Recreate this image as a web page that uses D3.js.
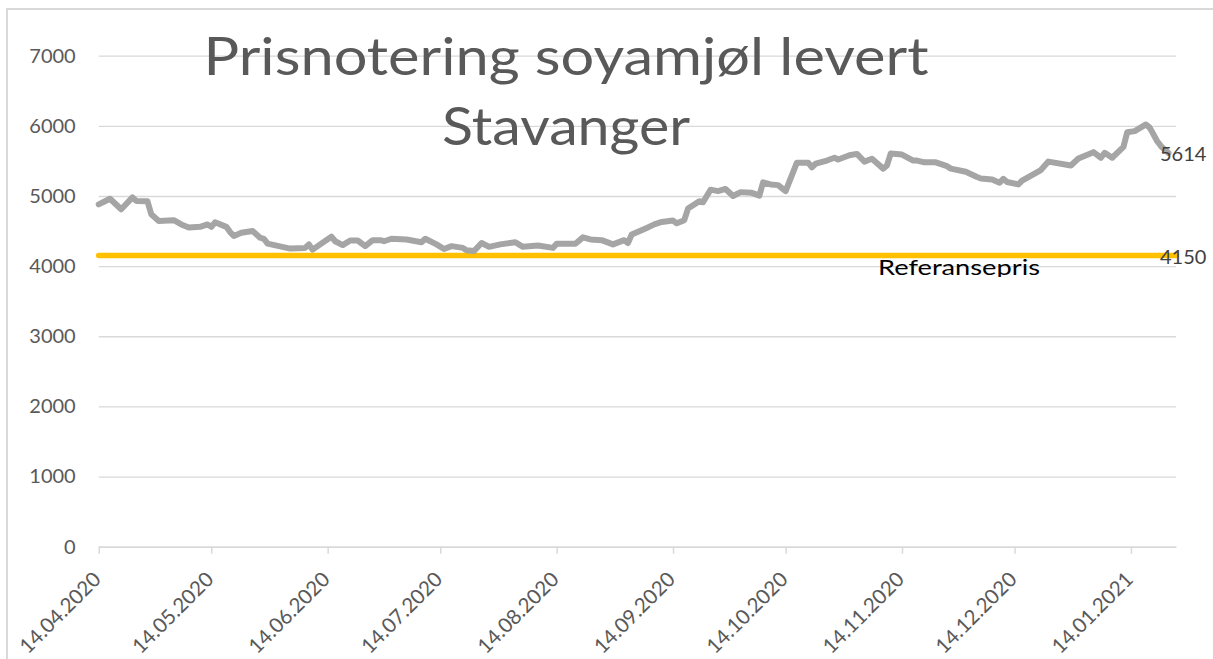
<!DOCTYPE html>
<html>
<head>
<meta charset="utf-8">
<script src="https://cdn.jsdelivr.net/npm/d3@7"></script>
<style>
  html, body { margin: 0; padding: 0; background: #fff; overflow: hidden; }
  svg { display: block; font-family: Lato, "Open Sans", sans-serif; }
</style>
</head>
<body>
<svg id="chart"></svg>
<script>
// Prisnotering soyamjøl levert Stavanger (kr/tonn)
const priceDates = [
  "14.04.2020","17.04.2020","20.04.2020","23.04.2020","24.04.2020","27.04.2020","28.04.2020","30.04.2020",
  "04.05.2020","06.05.2020","08.05.2020","11.05.2020","13.05.2020","14.05.2020","15.05.2020","18.05.2020",
  "19.05.2020","20.05.2020","22.05.2020","25.05.2020","27.05.2020","28.05.2020","29.05.2020","01.06.2020",
  "04.06.2020","08.06.2020","09.06.2020","10.06.2020","12.06.2020","15.06.2020","16.06.2020","18.06.2020",
  "20.06.2020","22.06.2020","24.06.2020","26.06.2020","28.06.2020","29.06.2020","01.07.2020","05.07.2020",
  "09.07.2020","10.07.2020","13.07.2020","15.07.2020","17.07.2020","20.07.2020","21.07.2020","23.07.2020",
  "25.07.2020","27.07.2020","30.07.2020","03.08.2020","05.08.2020","09.08.2020","13.08.2020","14.08.2020",
  "19.08.2020","21.08.2020","23.08.2020","26.08.2020","29.08.2020","01.09.2020","02.09.2020","03.09.2020",
  "07.09.2020","09.09.2020","11.09.2020","14.09.2020","15.09.2020","17.09.2020","18.09.2020","21.09.2020",
  "22.09.2020","24.09.2020","26.09.2020","28.09.2020","30.09.2020","02.10.2020","05.10.2020","07.10.2020",
  "08.10.2020","10.10.2020","12.10.2020","14.10.2020","17.10.2020","20.10.2020","21.10.2020","22.10.2020",
  "25.10.2020","27.10.2020","28.10.2020","31.10.2020","02.11.2020","04.11.2020","06.11.2020","09.11.2020",
  "10.11.2020","11.11.2020","14.11.2020","17.11.2020","18.11.2020","20.11.2020","23.11.2020","26.11.2020",
  "27.11.2020","01.12.2020","02.12.2020","04.12.2020","05.12.2020","08.12.2020","10.12.2020","11.12.2020",
  "12.12.2020","15.12.2020","16.12.2020","21.12.2020","23.12.2020","29.12.2020","31.12.2020","04.01.2021",
  "06.01.2021","07.01.2021","09.01.2021","12.01.2021","13.01.2021","15.01.2021","18.01.2021","19.01.2021",
  "21.01.2021","22.01.2021","24.01.2021"
];
const priceValues = [
  4880,4960,4810,4980,4930,4925,4740,4645,
  4655,4595,4550,4560,4595,4560,4625,4560,
  4485,4430,4475,4500,4405,4390,4320,4285,
  4250,4260,4310,4235,4310,4420,4355,4300,
  4365,4365,4285,4370,4370,4355,4390,4380,
  4340,4390,4310,4245,4285,4260,4225,4215,
  4330,4275,4310,4340,4275,4295,4260,4320,
  4320,4410,4380,4370,4310,4370,4330,4450,
  4545,4595,4630,4650,4610,4655,4820,4925,
  4910,5090,5070,5100,5000,5055,5045,5005,
  5195,5165,5155,5070,5475,5475,5410,5460,
  5505,5545,5520,5580,5600,5490,5530,5390,
  5435,5605,5590,5505,5505,5480,5480,5425,
  5390,5345,5320,5270,5250,5235,5190,5245,
  5200,5165,5220,5370,5490,5435,5535,5625,
  5545,5615,5545,5700,5910,5925,6020,5975,
  5780,5710,5614
];
const referenceValue = 4150;
const referenceLabel = "Referansepris";
const lastValueLabel = "5614";
const titleLines = ["Prisnotering soyamjøl levert", "Stavanger"];
const yTicks = [0, 1000, 2000, 3000, 4000, 5000, 6000, 7000];
const xTickDates = ["14.04.2020","14.05.2020","14.06.2020","14.07.2020","14.08.2020","14.09.2020",
                    "14.10.2020","14.11.2020","14.12.2020","14.01.2021"];
const xDomainDates = ["14.04.2020", "26.01.2021"];

const width = 1213, height = 659;
const plotLeft = 98.7, plotRight = 1176, plotTop = 55.7, plotBottom = 546.7;

const parse = d3.timeParse("%d.%m.%Y");
const fmt = d3.timeFormat("%d.%m.%Y");
const data = priceDates.map((d, i) => ({ date: parse(d), value: priceValues[i] }));

const svg = d3.select("#chart").attr("width", width).attr("height", height);

// frame of the embedded chart
svg.append("rect")
  .attr("x", 7).attr("y", 9).attr("width", 1400).attr("height", 900)
  .attr("fill", "none").attr("stroke", "#d9d9d9").attr("stroke-width", 2);

const x = d3.scaleTime().domain(xDomainDates.map(parse)).range([plotLeft, plotRight]);
const y = d3.scaleLinear().domain([0, 7000]).range([plotBottom, plotTop]);

// y axis + gridlines
const yAxis = svg.append("g")
  .attr("transform", `translate(${plotLeft},0)`)
  .call(d3.axisLeft(y).tickValues(yTicks).tickFormat(d3.format("d"))
    .tickSize(-(plotRight - plotLeft)).tickPadding(23));
yAxis.select(".domain").remove();
yAxis.selectAll(".tick line").attr("stroke", "#d9d9d9").attr("stroke-width", 1.3);
yAxis.selectAll(".tick text")
  .attr("fill", "#595959").style("font-size", "20px").style("font-family", "Lato");

// x axis
const xAxis = svg.append("g")
  .attr("transform", `translate(0,${plotBottom})`)
  .call(d3.axisBottom(x).tickValues(xTickDates.map(parse)).tickFormat(fmt).tickSize(7).tickSizeOuter(0));
xAxis.select(".domain").attr("stroke", "#d9d9d9").attr("stroke-width", 1.5);
xAxis.selectAll(".tick line").attr("stroke", "#d9d9d9").attr("stroke-width", 1.5);
xAxis.selectAll(".tick text")
  .attr("fill", "#595959").style("font-size", "20.5px").style("font-family", "Lato")
  .attr("text-anchor", "end")
  .attr("dy", null)
  .attr("y", 0)
  .attr("transform", "translate(3,34) rotate(-45)");

// reference line
svg.append("line")
  .attr("x1", x(data[0].date)).attr("x2", plotRight)
  .attr("y1", y(referenceValue)).attr("y2", y(referenceValue))
  .attr("stroke", "#FFC000").attr("stroke-width", 5.5).attr("stroke-linecap", "round");

// price line
const line = d3.line().x(d => x(d.date)).y(d => y(d.value));
svg.append("path")
  .datum(data)
  .attr("d", line)
  .attr("fill", "none")
  .attr("stroke", "#A5A5A5")
  .attr("stroke-width", 6)
  .attr("stroke-linejoin", "round")
  .attr("stroke-linecap", "round");

// value labels
const last = data[data.length - 1];
svg.append("text")
  .attr("x", 1160).attr("y", y(last.value))
  .attr("dominant-baseline", "central")
  .attr("fill", "#404040").style("font-size", "20px")
  .text(lastValueLabel);
svg.append("text")
  .attr("x", 1160).attr("y", y(referenceValue))
  .attr("dominant-baseline", "central")
  .attr("fill", "#404040").style("font-size", "20px")
  .text(referenceValue);

// "Referansepris" label, clipped by its box
svg.append("clipPath").attr("id", "refclip")
  .append("rect").attr("x", 860).attr("y", 240).attr("width", 250).attr("height", 37);
svg.append("text")
  .attr("clip-path", "url(#refclip)")
  .attr("x", 878).attr("y", 275)
  .attr("fill", "#000").style("font-size", "22px")
  .attr("textLength", 162).attr("lengthAdjust", "spacingAndGlyphs")
  .text(referenceLabel);

// title
const titleWidths = [725, 248];
const titleBaselines = [75, 145];
titleLines.forEach((t, i) => {
  svg.append("text")
    .attr("x", 566).attr("y", titleBaselines[i])
    .attr("text-anchor", "middle")
    .attr("fill", "#595959").style("font-size", "53px")
    .attr("textLength", titleWidths[i]).attr("lengthAdjust", "spacingAndGlyphs")
    .text(t);
});
</script>
</body>
</html>
